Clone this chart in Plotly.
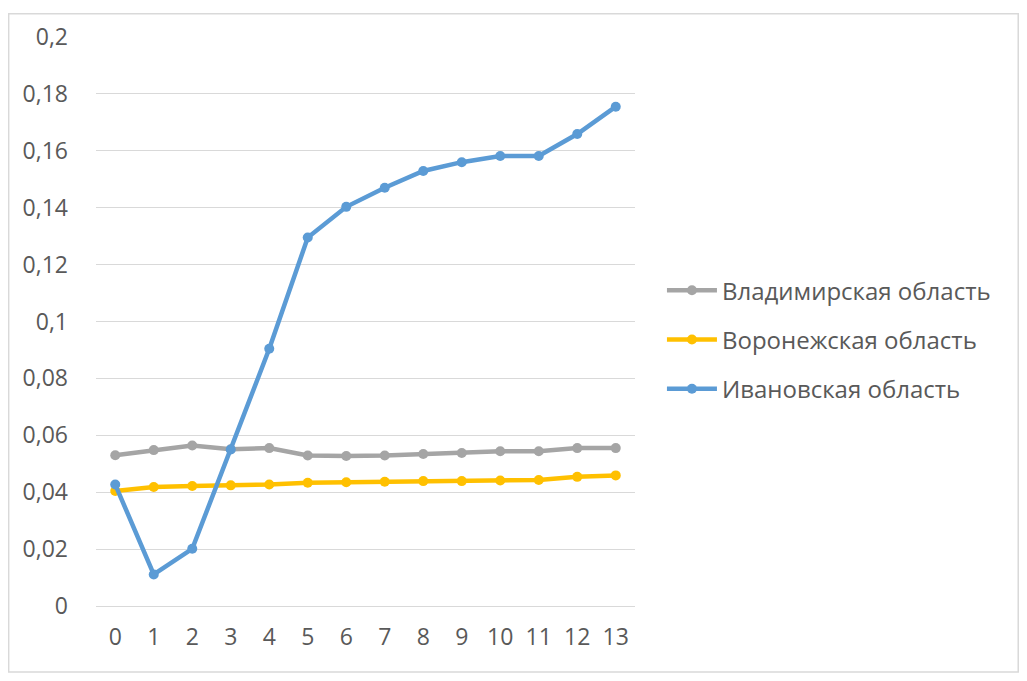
import plotly.graph_objects as go

steps = list(range(14))

vladimir = [0.0530, 0.0548, 0.0564, 0.0551, 0.0555, 0.0529, 0.0527,
            0.0529, 0.0534, 0.0538, 0.0544, 0.0544, 0.0555, 0.0555]
voronezh = [0.0404, 0.0418, 0.0422, 0.0424, 0.0427, 0.0433, 0.0435,
            0.0437, 0.0439, 0.0439, 0.0441, 0.0443, 0.0454, 0.0459]
ivanovo = [0.0427, 0.0111, 0.0201, 0.0550, 0.0904, 0.1295, 0.1403,
           0.1470, 0.1529, 0.1560, 0.1582, 0.1582, 0.1659, 0.1755]

series = {
    'Владимирская область': (vladimir, '#A5A5A5'),
    'Воронежская область': (voronezh, '#FFC000'),
    'Ивановская область': (ivanovo, '#5B9BD5'),
}

y_ticks = [0, 0.02, 0.04, 0.06, 0.08, 0.1, 0.12, 0.14, 0.16, 0.18, 0.2]
y_labels = ['0', '0,02', '0,04', '0,06', '0,08', '0,1', '0,12', '0,14', '0,16', '0,18', '0,2']

fig = go.Figure()
for name, (vals, color) in series.items():
    fig.add_trace(go.Scatter(
        x=steps, y=vals, mode='lines+markers', name=name, legendgroup=name,
        line=dict(color=color, width=4.5),
        marker=dict(color=color, size=10),
    ))

font_col = '#595959'
# page has an 8px body margin, so the figure is a bit smaller than the window
fig.update_layout(
    width=1011, height=665,
    margin=dict(l=88, r=384, t=24, b=67),
    plot_bgcolor='white', paper_bgcolor='white',
    font=dict(family='Open Sans', size=23, color=font_col),
    showlegend=True,
    legend=dict(x=1.05, y=0.468, xanchor='left', yanchor='middle',
                font=dict(size=24, color=font_col), itemwidth=50,
                tracegroupgap=15),
    xaxis=dict(range=[-0.5, 13.5], tickmode='array', tickvals=steps,
               showgrid=False, zeroline=False, showline=False, ticks='',
               ticklabelstandoff=15,
               tickfont=dict(size=23, color=font_col)),
    yaxis=dict(range=[0, 0.2], tickvals=y_ticks, ticktext=y_labels,
               showgrid=True, gridcolor='#D9D9D9', gridwidth=1,
               zeroline=True, zerolinecolor='#D9D9D9', zerolinewidth=1,
               ticks='', ticklabelstandoff=27,
               tickfont=dict(size=23, color=font_col)),
    shapes=[dict(type='rect', xref='paper', yref='paper',
                 x0=-0.162, x1=1.711, y0=-0.116, y1=1.041,
                 line=dict(color='#D9D9D9', width=1.5), layer='below')],
)

fig.write_html("out.html")
